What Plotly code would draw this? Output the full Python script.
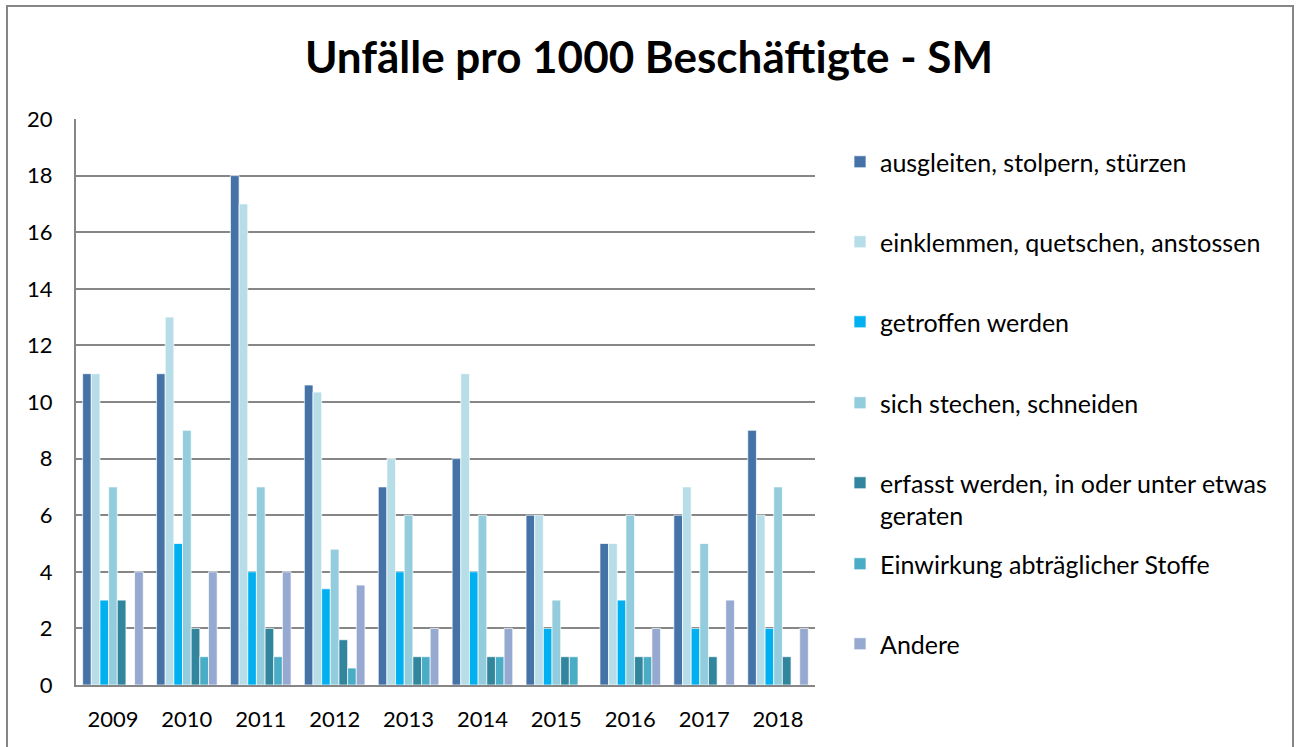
import plotly.graph_objects as go

years = ['2009', '2010', '2011', '2012', '2013', '2014', '2015', '2016', '2017', '2018']

ausgleiten = [11, 11, 18, 10.6, 7, 8, 6, 5, 6, 9]
einklemmen = [11, 13, 17, 10.35, 8, 11, 6, 5, 7, 6]
getroffen = [3, 5, 4, 3.4, 4, 4, 2, 3, 2, 2]
stechen = [7, 9, 7, 4.8, 6, 6, 3, 6, 5, 7]
erfasst = [3, 2, 2, 1.6, 1, 1, 1, 1, 1, 1]
einwirkung = [0, 1, 1, 0.6, 1, 1, 1, 1, 0, 0]
andere = [4, 4, 4, 3.53, 2, 2, 0, 2, 3, 2]

names = ['ausgleiten, stolpern, stürzen', 'einklemmen, quetschen, anstossen',
         'getroffen werden', 'sich stechen, schneiden',
         'erfasst werden, in oder unter etwas<br>geraten',
         'Einwirkung abträglicher Stoffe', 'Andere']
series = [ausgleiten, einklemmen, getroffen, stechen, erfasst, einwirkung, andere]
colors = ['#4573A7', '#B7DEE8', '#00B0F0', '#93CDDD', '#31859C', '#4BACC6', '#95A9D1']

# legend entry positions (px from top of page)
legend_y = [163, 243, 323, 404, 484, 565, 645]

W, H = 1298, 747
L, R, T, B = 76, 815, 119, 685
FONT = 'Lato'

fig = go.Figure()
for i, (nm, vals, c) in enumerate(zip(names, series, colors)):
    lg = 'legend' if i == 0 else 'legend%d' % (i + 1)
    fig.add_trace(go.Bar(x=years, y=vals, name=nm, marker_color=c,
                         marker_line=dict(color='white', width=0.7),
                         legend=lg, showlegend=True))

layout_legends = {}
for i, yp in enumerate(legend_y):
    key = 'legend' if i == 0 else 'legend%d' % (i + 1)
    layout_legends[key] = dict(
        x=(840 - L) / (R - L), xanchor='left',
        y=(B - yp + 24) / (B - T), yanchor='top',
        valign='top', bgcolor='rgba(0,0,0,0)',
        font=dict(family=FONT, size=25, color='black'),
        itemwidth=30, visible=True,
    )

fig.update_layout(
    width=W, height=H,
    margin=dict(l=L, r=W - R, t=T, b=H - B),
    paper_bgcolor='white', plot_bgcolor='white',
    barmode='group', bargap=0.18, bargroupgap=0,
    showlegend=True,
    title=dict(text='<b>Unfälle pro 1000 Beschäftigte - SM</b>',
               xref='container', x=0.5, xanchor='center',
               yref='container', y=1 - 58 / H, yanchor='middle',
               font=dict(family=FONT, size=44, color='black')),
    font=dict(family=FONT, size=22, color='black'),
    **layout_legends,
)
fig.update_yaxes(range=[0, 20], dtick=2, showgrid=True, gridcolor='#868686', gridwidth=1.5,
                 showline=True, linecolor='#868686', linewidth=2, ticks='',
                 ticklabelstandoff=17, zeroline=False,
                 tickfont=dict(family=FONT, size=22, color='black'))
fig.update_xaxes(showline=True, linecolor='#868686', linewidth=2, ticks='',
                 ticklabelstandoff=14,
                 tickfont=dict(family=FONT, size=22, color='black'))

# outer chart border
fig.add_shape(type='rect', xref='paper', yref='paper',
              x0=(7 - L) / (R - L), x1=(1293 - L) / (R - L),
              y0=(B - 752) / (B - T), y1=(B - 6) / (B - T),
              line=dict(color='#868686', width=2), fillcolor='rgba(0,0,0,0)', layer='below')

fig.write_html('out.html', config={'displayModeBar': False},
               post_script="document.body.style.margin='0px';")
